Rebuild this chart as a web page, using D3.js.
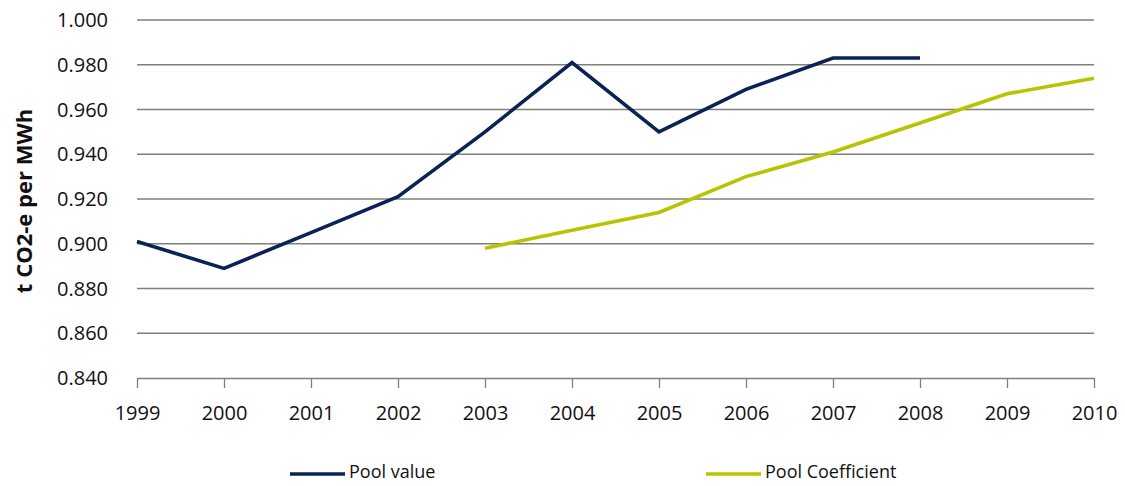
<!DOCTYPE html>
<html><head><meta charset="utf-8">
<script src="https://cdn.jsdelivr.net/npm/d3@7"></script>
<style>body{margin:0;background:#fff}svg{display:block}text{font-family:"Open Sans",sans-serif}</style>
</head><body><svg id="c" width="1125" height="486"></svg>
<script>
const years = [1999,2000,2001,2002,2003,2004,2005,2006,2007,2008,2009,2010];
const poolValue = [0.901,0.889,0.905,0.921,0.950,0.981,0.950,0.969,0.983,0.983,null,null];
const poolCoefficient = [null,null,null,null,0.898,0.906,0.914,0.930,0.941,0.954,0.967,0.974];
const yTicks = [0.84,0.86,0.88,0.90,0.92,0.94,0.96,0.98,1.00];
const seriesNames = ["Pool value","Pool Coefficient"];
const colors = ["#0b2254","#b8c400"];

const svg = d3.select("#c");
const x = d3.scaleLinear().domain([1999,2010]).range([137,1094]);
const y = d3.scaleLinear().domain([0.84,1.00]).range([378,20]);

// gridlines
svg.append("g").selectAll("line").data(yTicks.slice(1)).join("line")
  .attr("x1",137).attr("x2",1094).attr("y1",d=>y(d)).attr("y2",d=>y(d))
  .attr("stroke","#7f7f7f").attr("stroke-width",1.3);

// y labels
svg.append("g").selectAll("text").data(yTicks).join("text")
  .attr("x",108).attr("y",d=>y(d)).attr("dy","0.35em").attr("text-anchor","end")
  .attr("font-size",20).attr("fill","#111").text(d=>d3.format(".3f")(d));

// x axis
const xa = svg.append("g").attr("transform","translate(0,378)")
  .call(d3.axisBottom(x).tickValues(years).tickFormat(d3.format("d")).tickSize(10).tickSizeOuter(0));
xa.select(".domain").attr("stroke","#7f7f7f").attr("stroke-width",1.3);
xa.selectAll(".tick line").attr("stroke","#7f7f7f").attr("stroke-width",1.3);
xa.selectAll(".tick text").attr("font-size",20).attr("fill","#111").attr("dy","0").attr("y",42)
  .style("font-family",'"Open Sans",sans-serif');

// y title
svg.append("text").attr("transform","translate(32,201) rotate(-90)").attr("text-anchor","middle")
  .attr("font-size",22).attr("font-weight","bold").attr("fill","#111").text("t CO2-e per MWh");

const line = d3.line().defined(d=>d[1]!==null).x(d=>x(d[0])).y(d=>y(d[1]));
[poolValue,poolCoefficient].forEach((s,i)=>{
  svg.append("path").datum(years.map((yr,j)=>[yr,s[j]]))
    .attr("d",line).attr("fill","none").attr("stroke",colors[i]).attr("stroke-width",3.6)
    .attr("stroke-linejoin","miter");
});

// legend
const lx = [290,706];
seriesNames.forEach((n,i)=>{
  svg.append("line").attr("x1",lx[i]).attr("x2",lx[i]+55).attr("y1",474).attr("y2",474)
    .attr("stroke",colors[i]).attr("stroke-width",3.6);
  svg.append("text").attr("x",lx[i]+59).attr("y",472).attr("dy","0.35em")
    .attr("font-size",18).attr("fill","#111").text(n);
});
</script></body></html>
